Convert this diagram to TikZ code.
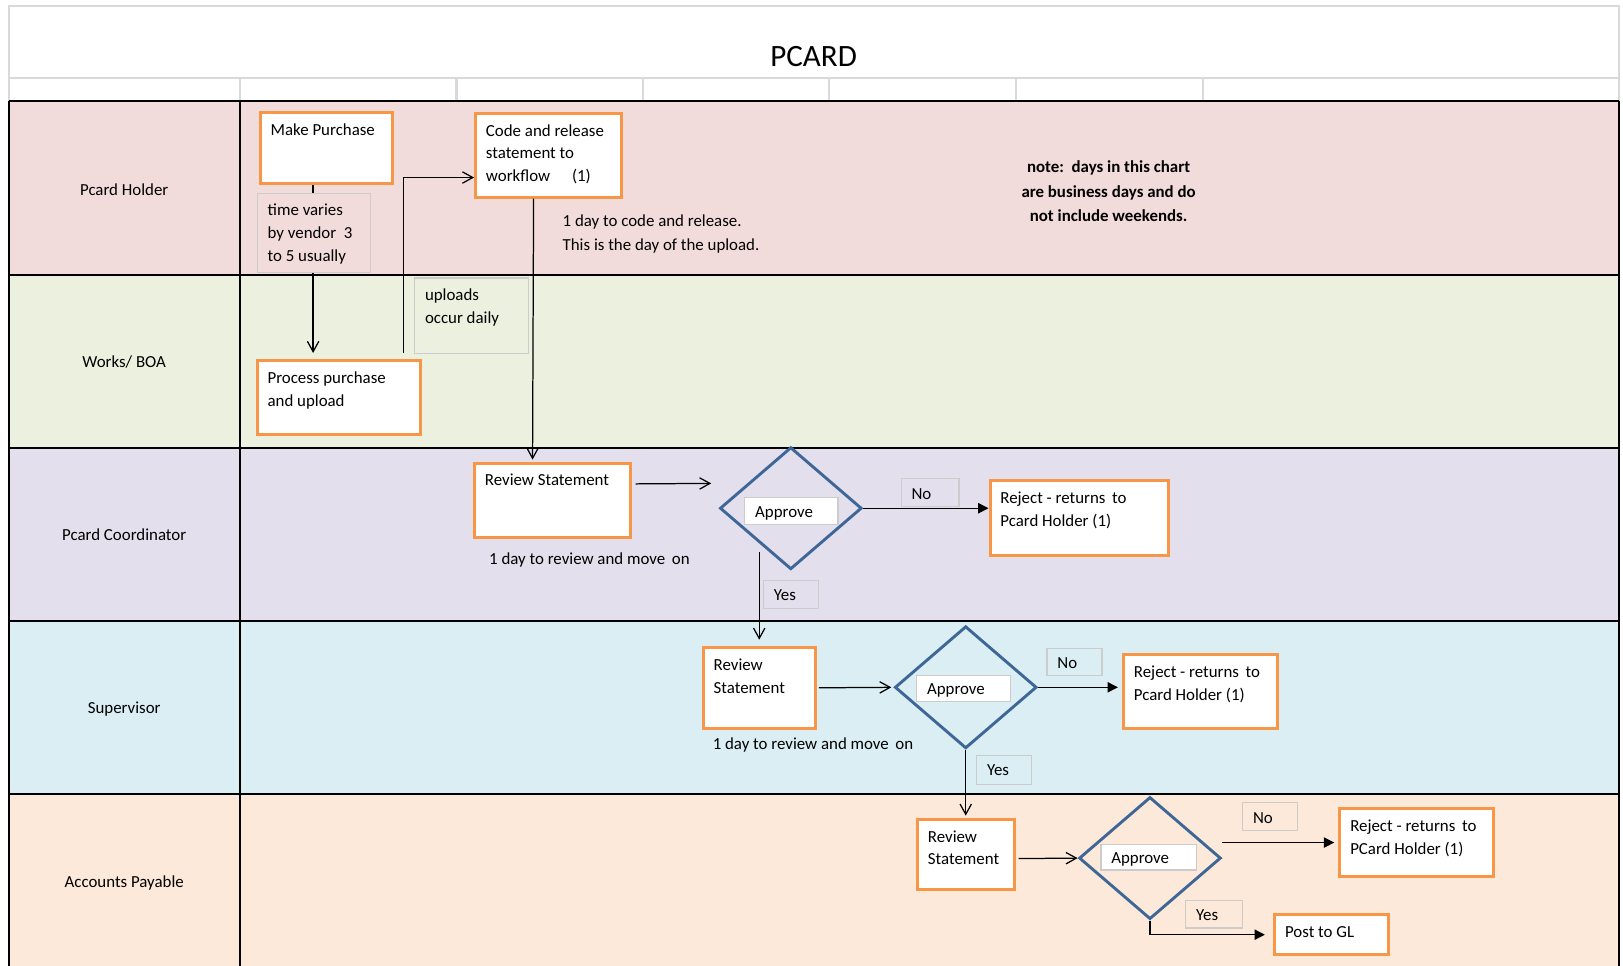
\documentclass[tikz,border=0pt]{standalone}
\usepackage{fontspec}
\setmainfont{Carlito}
\usetikzlibrary{arrows.meta, positioning, shapes.geometric}
\definecolor{boxorange}{HTML}{F79646}
\definecolor{diablue}{HTML}{3E6798}
\definecolor{laneholder}{HTML}{F2DCDB}
\definecolor{laneworks}{HTML}{EBF1DE}
\definecolor{lanecoord}{HTML}{E4DFEC}
\definecolor{lanesuper}{HTML}{DAEEF3}
\definecolor{lanepay}{HTML}{FDE9D9}
\tikzset{
    stepbox/.style={rectangle, draw=boxorange, line width=1.5pt, fill=white, anchor=north west, inner xsep=5pt, inner ysep=5pt, text height=6pt, align=flush left, font=\fontsize{8.15}{11}\selectfont},
    notebox/.style={rectangle, draw=gray!40, line width=0.6pt, anchor=north west, inner xsep=5pt, inner ysep=5pt, text height=6pt, align=flush left, font=\fontsize{8.15}{11}\selectfont},
    tagbox/.style={rectangle, draw=gray!40, line width=0.6pt, anchor=north west, inner xsep=5pt, inner ysep=0pt, text height=6pt, text depth=0pt, align=flush left, font=\fontsize{8.15}{11}\selectfont},
    decision/.style={diamond, draw=diablue, line width=1.4pt, inner sep=0pt, minimum width=68.5pt, minimum height=59pt},
    lanelabel/.style={inner sep=0pt, font=\fontsize{8.15}{11}\selectfont},
    plaintext/.style={inner sep=0pt, align=left, font=\fontsize{8.15}{11.5}\selectfont},
    gridline/.style={draw=gray!30, line width=1pt},
    laneline/.style={draw=black, line width=1pt}
}

\begin{document}
\begin{tikzpicture}[x=0.5pt, y=-0.5pt, >={Straight Barb[length=5pt,width=5.5pt]}, line width=0.6pt]
% Swim-lane chart of the card statement workflow.
  \useasboundingbox (0,0) rectangle (1568,933);
  \fill[white] (0,0) rectangle (1568,933);
  \fill[laneholder] (9,98) rectangle (1564,266);
  \fill[laneworks] (9,266) rectangle (1564,433);
  \fill[lanecoord] (9,433) rectangle (1564,600);
  \fill[lanesuper] (9,600) rectangle (1564,767);
  \fill[lanepay] (9,767) rectangle (1564,940);
  \draw[gridline] (9,98) -- (9,6) -- (1564,6) -- (1564,98);
  \draw[gridline] (9,75) -- (1564,75);
  \draw[gridline] (232,75) -- (232,98);
  \draw[gridline] (441,75) -- (441,98);
  \draw[gridline] (621,75) -- (621,98);
  \draw[gridline] (801,75) -- (801,98);
  \draw[gridline] (982,75) -- (982,98);
  \draw[gridline] (1162,75) -- (1162,98);
  \draw[laneline] (9,98) -- (1564,98);
  \draw[laneline] (9,266) -- (1564,266);
  \draw[laneline] (9,433) -- (1564,433);
  \draw[laneline] (9,600) -- (1564,600);
  \draw[laneline] (9,767) -- (1564,767);
  \draw[laneline] (9,98) -- (9,940);
  \draw[laneline] (232,98) -- (232,940);
  \draw[laneline] (1564,98) -- (1564,940);

  \node[inner sep=0pt, font=\fontsize{15}{18}\selectfont] (title) at (786,55) {PCARD};
  \node[lanelabel] (holder) at (120,183) {Pcard Holder};
  \node[lanelabel] (works) at (120,350) {Works/ BOA};
  \node[lanelabel] (coord) at (120,517) {Pcard Coordinator};
  \node[lanelabel] (super) at (120,685) {Supervisor};
  \node[lanelabel] (pay) at (120,853) {Accounts Payable};

  \node[stepbox, text width=54pt, text depth=18.5pt] (mp) at (250,107) {Make Purchase};
  \node[stepbox, text width=60.5pt, text depth=24.5pt] (code) at (458,108) {Code and release\\statement to\\workflow\hspace{1.3em}(1)};
  \node[stepbox, text width=69pt, text depth=19.5pt] (proc) at (247,347) {Process purchase\\and upload};
  \node[stepbox, text width=65.5pt, text depth=20pt] (rev1) at (457,446) {Review Statement};
  \node[stepbox, text width=76pt, text depth=20pt] (rej1) at (955,463) {Reject - returns\,\ to\\Pcard Holder (1)};
  \node[stepbox, text width=44pt, text depth=23pt] (rev2) at (678,624) {Review\\Statement};
  \node[stepbox, text width=64.5pt, text depth=19.5pt] (rej2) at (1084,631) {Reject - returns\,\ to\\Pcard Holder (1)};
  \node[stepbox, text width=37pt, text depth=18pt] (rev3) at (885,790) {Review\\Statement};
  \node[stepbox, text width=64pt, text depth=16.5pt] (rej3) at (1293,780) {Reject - returns\,\ to\\PCard Holder (1)};
  \node[stepbox, text width=45pt, text depth=3.5pt] (gl) at (1230,882) {Post to GL};

  \node[decision] (dia1) at (764,491) {};
  \node[decision] (dia2) at (933,664) {};
  \node[decision] (dia3) at (1111,829) {};
  \node[tagbox, fill=white, minimum width=45pt, minimum height=13pt, text width=35pt] (ap1) at (719,480) {Approve};
  \node[tagbox, fill=white, minimum width=45.5pt, minimum height=12.5pt, text width=35.5pt] (ap2) at (885,652) {Approve};
  \node[tagbox, fill=white, minimum width=46pt, minimum height=12.5pt, text width=36pt] (ap3) at (1063,815) {Approve};
  \node[tagbox, minimum width=28pt, minimum height=13.5pt, text width=18pt] (no1) at (870,462) {No};
  \node[tagbox, minimum width=26.5pt, minimum height=13pt, text width=16.5pt] (no2) at (1011,626) {No};
  \node[tagbox, minimum width=26.5pt, minimum height=13.5pt, text width=16.5pt] (no3) at (1200,775) {No};
  \node[tagbox, minimum width=26.5pt, minimum height=13.5pt, text width=16.5pt] (yes1) at (737,560) {Yes};
  \node[tagbox, minimum width=26.5pt, minimum height=14pt, text width=16.5pt] (yes2) at (943,729) {Yes};
  \node[tagbox, minimum width=27.5pt, minimum height=13.5pt, text width=17.5pt] (yes3) at (1145,869) {Yes};

  \node[plaintext, anchor=west] (codetime) at (543,226) {1 day to code and release.\\This is the day of the upload.};
  \node[plaintext, anchor=west] (revtime1) at (472,541) {1 day to review and move\,\ on};
  \node[plaintext, anchor=west] (revtime2) at (688,720) {1 day to review and move\,\ on};
  \node[plaintext, align=center, font=\fontsize{8.15}{11.8}\selectfont\bfseries] (daysnote) at (1071,185) {note:\ \ days in this chart\\are business days and do\\not include weekends.};

  \draw[->, shorten >=3pt] ([xshift=-6.5pt]mp.south) -- ([xshift=-12.5pt]proc.north);
  \draw[->, shorten <=3pt] ([xshift=31pt]proc.north) |- ([yshift=-10.75pt]code.west);
  \draw[->, shorten >=1pt] ([xshift=-7.25pt]code.south) -- ([xshift=-9.75pt]rev1.north);
  \draw[->, shorten <=1.5pt] ([yshift=8pt]rev1.east) -- ([xshift=-3.5pt,yshift=12pt]dia1.west);
  \draw[-{Triangle[length=5pt,width=5pt]}] (dia1.east) -- (dia1.east -| rej1.west);
  \draw[->, shorten <=6pt, shorten >=3pt] (dia1.south west -| rev2.north) -- (rev2.north);
  \draw[->, shorten <=1pt, shorten >=1pt] (rev2.east) -- (dia2.west);
  \draw[-{Triangle[length=5pt,width=5pt]}, shorten >=2pt] (dia2.east) -- (dia2.east -| rej2.west);
  \draw[->, shorten >=1pt] (dia2.south) -- (dia2.south |- rev3.north);
  \draw[->, shorten <=1pt] ([yshift=-2pt]rev3.east) -- (dia3.west);
  \draw[-{Triangle[length=5pt,width=5pt]}, shorten >=2pt] (dia3.east |- rej3.west) -- (rej3.west);
  \draw[-{Triangle[length=5pt,width=5pt]}, shorten >=4pt] (dia3.south) |- (gl.west);

  \node[notebox, fill=laneholder, text width=44.5pt, text depth=22.5pt] (vary) at (248,186) {time varies\\by vendor\ \ 3\\to 5 usually};
  \node[notebox, fill=laneworks, text width=45pt, text depth=20.5pt] (daily) at (400,268) {uploads\\occur daily};
\end{tikzpicture}
\end{document}
